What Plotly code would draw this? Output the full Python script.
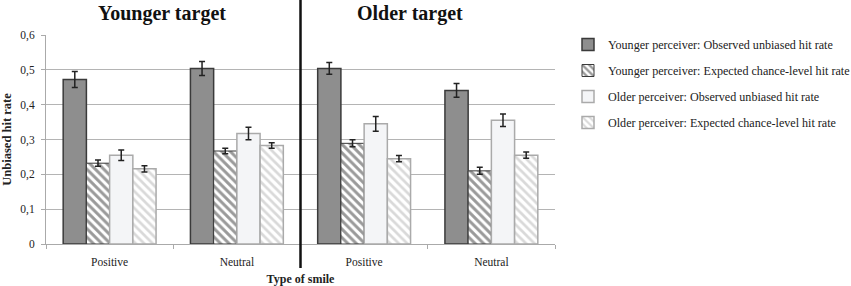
import plotly.graph_objects as go

groups = ["Younger target", "Older target"]
cat_labels = ["Positive", "Neutral", "Positive", "Neutral"]
series_names = [
    "Younger perceiver: Observed unbiased hit rate",
    "Younger perceiver: Expected chance-level hit rate",
    "Older perceiver: Observed unbiased hit rate",
    "Older perceiver: Expected chance-level hit rate",
]
young_obs = [0.472, 0.504, 0.504, 0.441]
young_obs_err = [0.023, 0.020, 0.017, 0.020]
young_exp = [0.232, 0.267, 0.289, 0.210]
young_exp_err = [0.009, 0.008, 0.010, 0.010]
old_obs = [0.255, 0.317, 0.345, 0.355]
old_obs_err = [0.015, 0.018, 0.021, 0.018]
old_exp = [0.216, 0.283, 0.245, 0.255]
old_exp_err = [0.009, 0.008, 0.009, 0.009]
y_ticks = [0, 0.1, 0.2, 0.3, 0.4, 0.5, 0.6]
y_ticktext = ["0", "0,1", "0,2", "0,3", "0,4", "0,5", "0,6"]

x = list(range(len(cat_labels)))
serif = "Liberation Serif, Times New Roman, serif"

styles = [
    dict(color="#8e8e8e", marker_line=dict(color="#3a3a3a", width=1.5), pattern=None),
    dict(color="white", marker_line=dict(color="#3a3a3a", width=1),
         pattern=dict(shape="\\", fgcolor="#363636", bgcolor="white", size=6, solidity=0.5)),
    dict(color="#f4f5f7", marker_line=dict(color="#aaaaaa", width=1.5), pattern=None),
    dict(color="white", marker_line=dict(color="#aaaaaa", width=1.5),
         pattern=dict(shape="\\", fgcolor="#b4b4b4", bgcolor="white", size=6, solidity=0.45)),
]
values = [young_obs, young_exp, old_obs, old_exp]
errors = [young_obs_err, young_exp_err, old_obs_err, old_exp_err]

fig = go.Figure()
for i, (name, vals, errs, st) in enumerate(zip(series_names, values, errors, styles)):
    marker = dict(color=st["color"], line=st["marker_line"])
    if st["pattern"] is not None:
        marker["pattern"] = st["pattern"]
    fig.add_trace(go.Bar(
        x=x, y=vals, name=name, marker=marker,
        legendgroup=f"g{i}",
        error_y=dict(type="data", array=errs, color="#222222", thickness=1.5, width=3),
    ))

fig.update_layout(
    width=851, height=286,
    margin=dict(l=46, r=296, t=35, b=42),
    paper_bgcolor="white", plot_bgcolor="white",
    barmode="group", bargap=0.27, bargroupgap=0,
    font=dict(family=serif, size=11, color="#222222"),
    legend=dict(xref="container", yref="container", x=568 / 851, y=1 - 30 / 286,
                xanchor="left", yanchor="top",
                font=dict(family=serif, size=12.1, color="#222222"),
                tracegroupgap=7, itemwidth=30),
    showlegend=True,
)
fig.update_xaxes(
    range=[-0.5, 3.5], tickvals=x, ticktext=cat_labels, ticks="",
    showline=True, linecolor="#aaaaaa", linewidth=1, showgrid=False,
    minor=dict(tickvals=[-0.5, 0.5, 1.5, 2.5, 3.5], ticks="outside", ticklen=4, tickcolor="#aaaaaa", showgrid=False),
    ticklabelstandoff=7,
    title=dict(text="<b>Type of smile</b>", font=dict(family=serif, size=12), standoff=7),
    tickfont=dict(family=serif, size=11.5), automargin=False,
)
fig.update_yaxes(
    range=[0, 0.6], tickvals=y_ticks, ticktext=y_ticktext,
    showline=True, linecolor="#aaaaaa", linewidth=1,
    showgrid=True, gridcolor="#b4b4b4", gridwidth=1,
    ticks="outside", ticklen=4, tickcolor="#aaaaaa", ticklabelstandoff=4,
    title=dict(text="<b>Unbiased hit rate</b>", font=dict(family=serif, size=12.5), standoff=9),
    tickfont=dict(family=serif, size=11.5), zeroline=False, automargin=False,
)
fig.add_shape(type="line", xref="x", yref="paper", x0=1.5, x1=1.5, y0=-0.115, y1=1.17,
              line=dict(color="#111111", width=2.5))
for gname, px in zip(groups, [0.228, 0.715]):
    fig.add_annotation(text=f"<b>{gname}</b>", xref="paper", yref="paper", x=px, y=1.0,
                       xanchor="center", yshift=22, yanchor="middle", showarrow=False,
                       font=dict(family=serif, size=20, color="#111111"))

fig.write_html("out.html", config={"displayModeBar": False},
               post_script="document.body.style.margin='0';")
